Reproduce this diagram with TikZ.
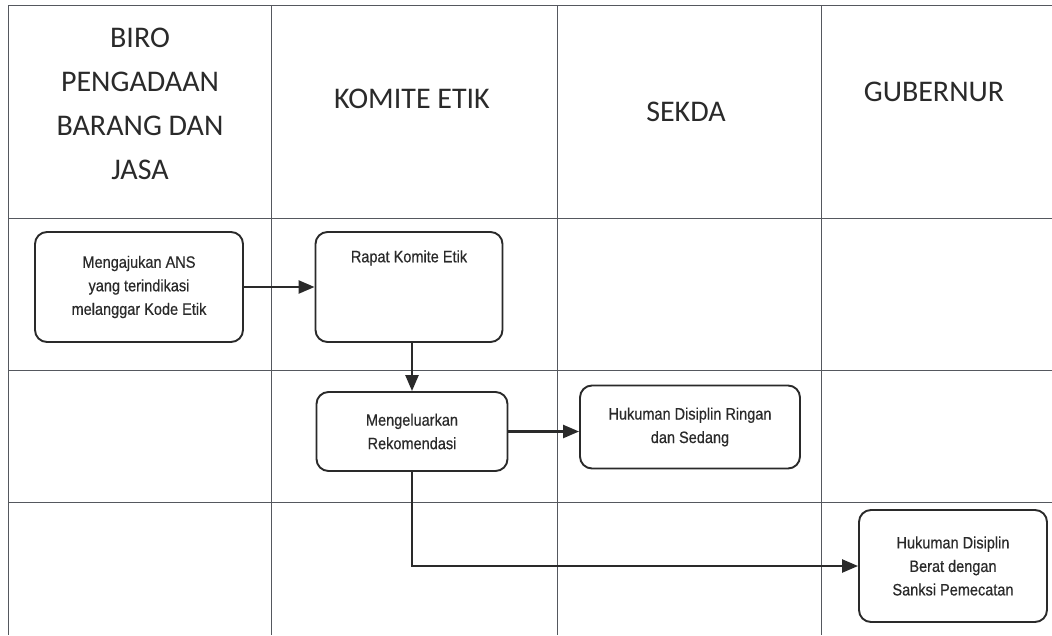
\documentclass[tikz,border=0pt]{standalone}
\usepackage{fontspec}
\setmainfont{Carlito}
\newfontfamily\boxfont[FakeStretch=0.88,FakeBold=0.5]{Liberation Sans}
\usetikzlibrary{arrows.meta}
\definecolor{ink}{HTML}{2A2A2A}
\definecolor{gridc}{HTML}{55585E}
\tikzset{
  lane/.style={draw=gridc, line width=0.9pt},
  head/.style={text=ink, align=center, font=\fontsize{30}{44}\selectfont},
  stepbox/.style={draw=ink, line width=1.9pt, rounded corners=12pt, fill=white,
    align=center, text=ink, font=\boxfont\fontsize{16.5}{23.5}\selectfont, inner sep=0pt},
  boxtext/.style={align=center, text=ink, font=\boxfont\fontsize{16.5}{23.5}\selectfont, inner sep=0pt},
  flow/.style={draw=ink, line width=2.4pt, -{Triangle[length=16pt,width=13pt]}}
}
\begin{document}
\begin{tikzpicture}[x=1pt,y=-1pt]
\useasboundingbox (0,0) rectangle (1052,635);
\fill[white] (0,0) rectangle (1052,635);

% swimlane grid
\coordinate (t0) at (8,5);   \coordinate (t1) at (1052,5);
\coordinate (h0) at (8,218); \coordinate (h1) at (1052,218);
\coordinate (r0) at (8,370); \coordinate (r1) at (1052,370);
\coordinate (s0) at (8,502); \coordinate (s1) at (1052,502);
\draw[lane] (t0) -- (t1);
\draw[lane] (h0) -- (h1);
\draw[lane] (r0) -- (r1);
\draw[lane] (s0) -- (s1);
\coordinate (c0a) at (8,5);   \coordinate (c0b) at (8,635);
\coordinate (c1a) at (271,5); \coordinate (c1b) at (271,635);
\coordinate (c2a) at (557,5); \coordinate (c2b) at (557,635);
\coordinate (c3a) at (821,5); \coordinate (c3b) at (821,635);
\draw[lane] (c0a) -- (c0b);
\draw[lane] (c1a) -- (c1b);
\draw[lane] (c2a) -- (c2b);
\draw[lane] (c3a) -- (c3b);

% lane headings
\node[head] (hbiro) at (140,104) {BIRO\\PENGADAAN\\BARANG DAN\\JASA};
\node[head] (hkomite) at (412,99) {KOMITE ETIK};
\node[head] (hsekda) at (686,112) {SEKDA};
\node[head] (hgub) at (934,92) {GUBERNUR};

% process steps
\node[stepbox, minimum width=208pt, minimum height=110pt] (ajukan) at (139,287)
  {Mengajukan ANS\\yang terindikasi\\melanggar Kode Etik};
\node[stepbox, minimum width=187pt, minimum height=110pt] (rapat) at (409,287) {};
\node[boxtext] (rapattxt) at (409,258) {Rapat Komite Etik};
\node[stepbox, minimum width=191pt, minimum height=79pt] (rekom) at (412,431.5)
  {Mengeluarkan\\Rekomendasi};
\node[stepbox, minimum width=220pt, minimum height=83pt] (ringan) at (690,427)
  {Hukuman Disiplin Ringan\\dan Sedang};
\node[stepbox, minimum width=188pt, minimum height=112pt] (berat) at (953,566)
  {Hukuman Disiplin\\Berat dengan\\Sanksi Pemecatan};

% connectors
\draw[flow] (ajukan.east) -- (rapat.west);
\draw[flow] (rapat.south -| rekom.north) -- (rekom.north);
\draw[flow] (rekom.east) -- (rekom.east -| ringan.west);
\draw[flow] (rekom.south) |- (berat.west);
\end{tikzpicture}
\end{document}
